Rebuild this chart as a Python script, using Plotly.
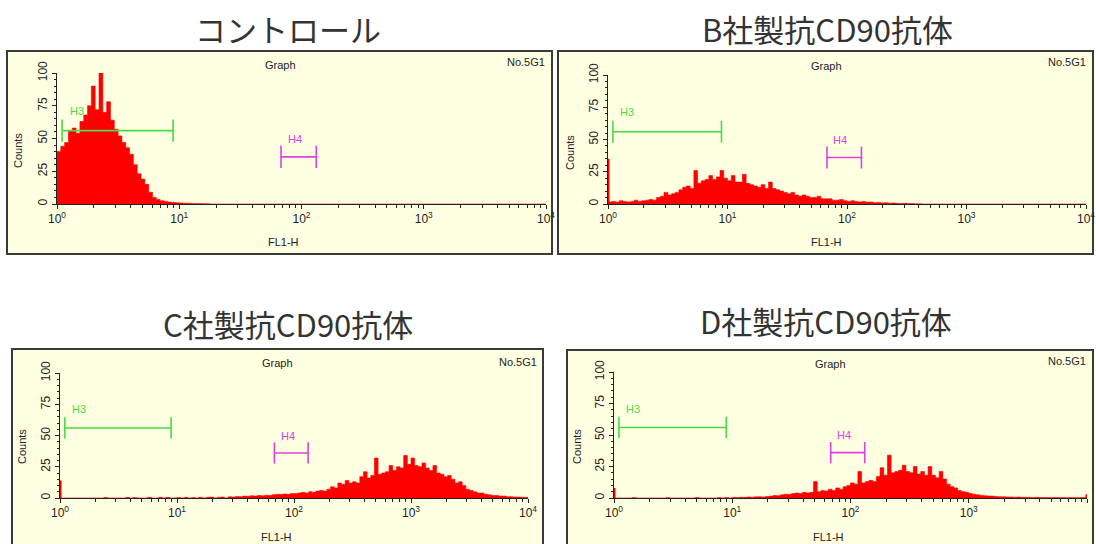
import math
import plotly.graph_objects as go

W, H = 1096, 544

# ---------------- data ----------------
BINS_PER_DECADE = 32
N_BINS = 128  # 4 decades, 10^0 .. 10^4

titles = ["コントロール", "B社製抗CD90抗体", "C社製抗CD90抗体", "D社製抗CD90抗体"]

control_counts = [40, 44, 47, 56, 58, 54, 63, 68, 75, 90,
                  72, 100, 70, 78, 64, 57, 52, 47, 43, 38,
                  30, 23, 19, 15, 9, 5, 3.5, 2.5, 2, 1.5,
                  1.2, 1, 0.8, 0.6, 0.5, 0.4, 0.3, 0.3, 0.2, 0.2] + [0] * 88

b_counts = ([1.5, 2, 1.5, 2.5, 2, 1.5, 2, 3, 2, 2.5,
             3, 3.5, 3,
             5, 6, 9,
             7, 8, 9,
             11, 13, 14, 12,
             26,
             16, 18,
             19, 22, 19,
             21, 26, 20,
             18, 22, 17,
             17, 23, 16, 15,
             14, 13, 15,
             12, 17, 12,
             11, 10, 9,
             8, 9, 7,
             6, 7, 6, 5,
             5, 6, 4,
             4, 4, 3,
             3, 3.5, 2.5,
             2, 2.5, 2, 1.5, 2, 1.5, 1.5,
             1, 1.2, 0.8, 1, 0.6, 0.7,
             0.5, 0.4, 0.5, 0.3, 0.3, 0.2, 0.2] + [0] * 44)

c_counts = ([0] * 12 + [0.4] + [0] * 5 +
            [0.5, 0, 0.4, 0, 0, 0, 0.5, 0, 0, 0.6, 0, 0.5, 0, 0] +
            [0.4, 0, 0.5, 0, 0.3, 0, 0.6, 0, 0.5, 0.7, 0, 0.6, 0.8, 0, 0.9, 0.7,
             1.2, 1, 1.5, 1.4, 1.8, 1.5, 2, 1.7, 2.2, 2,
             2.5, 3, 2.8, 3.2, 3, 3.5,
             3.5, 4, 4.5, 4, 5, 4.5, 5.5,
             6, 5.5, 7, 9, 8,
             12, 11, 14,
             12, 13, 12,
             17, 21, 16,
             18, 32, 19, 20,
             21, 26, 22,
             25, 24, 34,
             27, 32, 26,
             25, 28, 24,
             22, 26, 20,
             19, 17, 18, 15,
             12, 13, 10,
             7, 6, 5,
             4, 4, 3,
             2.5, 2, 2, 1.5, 1.5,
             1, 1, 0.8, 0.7, 0.6, 0.5])

d_counts = ([0] * 5 + [0.3] + [0] * 8 + [0.3] + [0] * 7 + [0.4] + [0] * 5 +
            [0.3, 0, 0.4, 0] +
            [0.5, 0.4, 0.6, 0.5, 0.8, 0.6, 0.9, 1, 0.8, 1.2,
             1.5, 2, 1.8, 2.5, 3, 2.8,
             3.5, 4, 3.5, 4.5, 4, 4.5, 13,
             5, 6, 5.5, 7, 6, 8, 7, 9, 10,
             12, 11, 21, 12,
             13, 14, 13,
             17, 24, 18,
             34, 20, 21,
             22, 26, 21,
             20, 25, 19, 21,
             18, 25, 18,
             16, 21, 15,
             11, 9, 8,
             6, 5, 4.5,
             3.5, 3, 2.5,
             2, 1.8, 1.5, 1.5, 1.2, 1, 1,
             0.8, 0.8, 0.6, 0.7, 0.5, 0.6, 0.5, 0.4, 0.5, 0.4,
             0.4, 0.3, 0.3, 0.4, 0.3, 0.3, 0.2, 0.3, 0.3, 0.2, 0.3, 0.3])

first_channel = [0, 35, 14, 8]   # pile-up in the first channel (10^0)
last_channel = [0, 0, 0, 3]      # pile-up in the last channel (10^4)

y_ticks = [0, 25, 50, 75, 100]
x_ticks = [1, 10, 100, 1000, 10000]
x_ticktext = ["10<sup>0</sup>", "10<sup>1</sup>", "10<sup>2</sup>",
              "10<sup>3</sup>", "10<sup>4</sup>"]

gate_h3 = [1.1, 8.9]
gate_h3_level = 56
gate_h4 = [68, 132]
gate_h4_level = 36
gate_cap = 8.5
h3_label = (1.45, 71)
h4_label = (88, 50)

all_counts = [control_counts, b_counts, c_counts, d_counts]

# ---------------- layout geometry (pixels) ----------------
panels = [
    dict(box=(7, 51, 552, 254), ax=(57, 546), ay=(73, 204),
         graph=(280, 65), no=(547, 62), fl=(283, 242), counts=(18, 151)),
    dict(box=(558, 51, 1093, 254), ax=(608, 1086), ay=(75, 204),
         graph=(826, 66), no=(1088, 62), fl=(826, 242), counts=(570, 153)),
    dict(box=(12, 349, 543, 620), ax=(60, 528), ay=(373, 498),
         graph=(277, 363), no=(539, 362), fl=(276, 537), counts=(22, 447)),
    dict(box=(567, 350, 1093, 620), ax=(614, 1087), ay=(372, 498),
         graph=(830, 364), no=(1088, 361), fl=(828, 537), counts=(577, 447)),
]
title_pos = [(288, 28), (827, 28), (288, 323), (826, 320)]

GREEN = "#46DC46"
MAGENTA = "#E040E0"
RED = "#FF0000"
BG = "#FFFFE2"
TXT = "#222222"
SMALL_FONT = "Liberation Sans"


def px(x):
    return x / W


def py(y):
    return 1 - y / H


edges = [10 ** (i / BINS_PER_DECADE) for i in range(N_BINS + 1)]
minor_vals = [m * 10 ** d for d in range(4) for m in range(2, 10)]

fig = go.Figure()
shapes = []
annotations = []

for k, (p, counts) in enumerate(zip(panels, all_counts), start=1):
    xs = "x" if k == 1 else f"x{k}"
    ys = "y" if k == 1 else f"y{k}"
    xa = "xaxis" if k == 1 else f"xaxis{k}"
    ya = "yaxis" if k == 1 else f"yaxis{k}"

    # histogram as filled step line
    fig.add_trace(go.Scatter(
        x=edges, y=list(counts) + [counts[-1]], mode="lines",
        line=dict(color=RED, width=0.6, shape="hv"),
        fill="tozeroy", fillcolor=RED, xaxis=xs, yaxis=ys,
        hoverinfo="skip", showlegend=False))
    if first_channel[k - 1] > 0:
        fig.add_trace(go.Scatter(
            x=[edges[0], edges[0]], y=[0, first_channel[k - 1]], mode="lines",
            line=dict(color=RED, width=3), xaxis=xs, yaxis=ys,
            hoverinfo="skip", showlegend=False))
    if last_channel[k - 1] > 0:
        fig.add_trace(go.Scatter(
            x=[edges[-1], edges[-1]], y=[0, last_channel[k - 1]], mode="lines",
            line=dict(color=RED, width=3), xaxis=xs, yaxis=ys,
            hoverinfo="skip", showlegend=False))

    # gates
    for g, lvl, col in ((gate_h3, gate_h3_level, GREEN), (gate_h4, gate_h4_level, MAGENTA)):
        fig.add_trace(go.Scatter(
            x=[g[0], g[1], None, g[0], g[0], None, g[1], g[1]],
            y=[lvl, lvl, None, lvl - gate_cap, lvl + gate_cap, None, lvl - gate_cap, lvl + gate_cap],
            mode="lines", line=dict(color=col, width=1.6), xaxis=xs, yaxis=ys,
            hoverinfo="skip", showlegend=False))
    annotations.append(dict(x=math.log10(h3_label[0]), y=h3_label[1], xref=xs, yref=ys,
                            text="H3", showarrow=False,
                            font=dict(family=SMALL_FONT, size=11, color=GREEN)))
    annotations.append(dict(x=math.log10(h4_label[0]), y=h4_label[1], xref=xs, yref=ys,
                            text="H4", showarrow=False,
                            font=dict(family=SMALL_FONT, size=11, color=MAGENTA)))

    fig.layout[xa] = dict(
        type="log", range=[0, 4], domain=[px(p["ax"][0]), px(p["ax"][1])],
        anchor=ys, showline=True, linecolor=TXT, linewidth=1, automargin=False,
        ticks="outside", ticklen=4, tickcolor=TXT, tickvals=x_ticks, ticktext=x_ticktext,
        tickfont=dict(family=SMALL_FONT, size=12, color=TXT),
        showgrid=False, zeroline=False, fixedrange=True,
        minor=dict(ticks="outside", ticklen=3, tickcolor=TXT, tickvals=minor_vals, showgrid=False))
    fig.layout[ya] = dict(
        range=[0, 100], domain=[py(p["ay"][1]), py(p["ay"][0])],
        anchor=xs, showline=True, linecolor=TXT, linewidth=1, automargin=False,
        ticks="outside", ticklen=4, tickcolor=TXT, tickvals=y_ticks, tickangle=-90,
        tickfont=dict(family=SMALL_FONT, size=12, color=TXT),
        showgrid=False, zeroline=False, fixedrange=True,
        minor=dict(ticks="outside", ticklen=2, tickcolor=TXT, dtick=5, showgrid=False))

    x0, y0, x1, y1 = p["box"]
    shapes.append(dict(type="rect", xref="paper", yref="paper",
                       x0=px(x0), x1=px(x1), y0=py(y1), y1=py(y0),
                       fillcolor=BG, line=dict(color="#3a3a3a", width=2), layer="below"))

    annotations.append(dict(x=px(p["graph"][0]), y=py(p["graph"][1]), xref="paper", yref="paper",
                            text="Graph", showarrow=False, xanchor="center", yanchor="middle",
                            font=dict(family=SMALL_FONT, size=11, color=TXT)))
    annotations.append(dict(x=px(p["no"][0]), y=py(p["no"][1]), xref="paper", yref="paper",
                            text="No.5G1", showarrow=False, xanchor="right", yanchor="middle",
                            font=dict(family=SMALL_FONT, size=11, color=TXT)))
    annotations.append(dict(x=px(p["fl"][0]), y=py(p["fl"][1]), xref="paper", yref="paper",
                            text="FL1-H", showarrow=False, xanchor="center", yanchor="middle",
                            font=dict(family=SMALL_FONT, size=11, color=TXT)))
    annotations.append(dict(x=px(p["counts"][0]), y=py(p["counts"][1]), xref="paper", yref="paper",
                            text="Counts", showarrow=False, textangle=-90,
                            xanchor="center", yanchor="middle",
                            font=dict(family=SMALL_FONT, size=11, color=TXT)))

for t, (tx, ty) in zip(titles, title_pos):
    annotations.append(dict(x=px(tx), y=py(ty), xref="paper", yref="paper",
                            text=t, showarrow=False, xanchor="center", yanchor="middle",
                            font=dict(family="Noto Sans CJK JP", size=31, color="#333333")))

fig.update_layout(
    width=W, height=H,
    margin=dict(l=0, r=0, t=0, b=0, pad=0, autoexpand=False),
    paper_bgcolor="white", plot_bgcolor="rgba(0,0,0,0)",
    shapes=shapes, annotations=annotations, showlegend=False)

fig.write_html("out.html", config={"displayModeBar": False},
               post_script="document.body.style.margin='0';document.body.style.padding='0';")
